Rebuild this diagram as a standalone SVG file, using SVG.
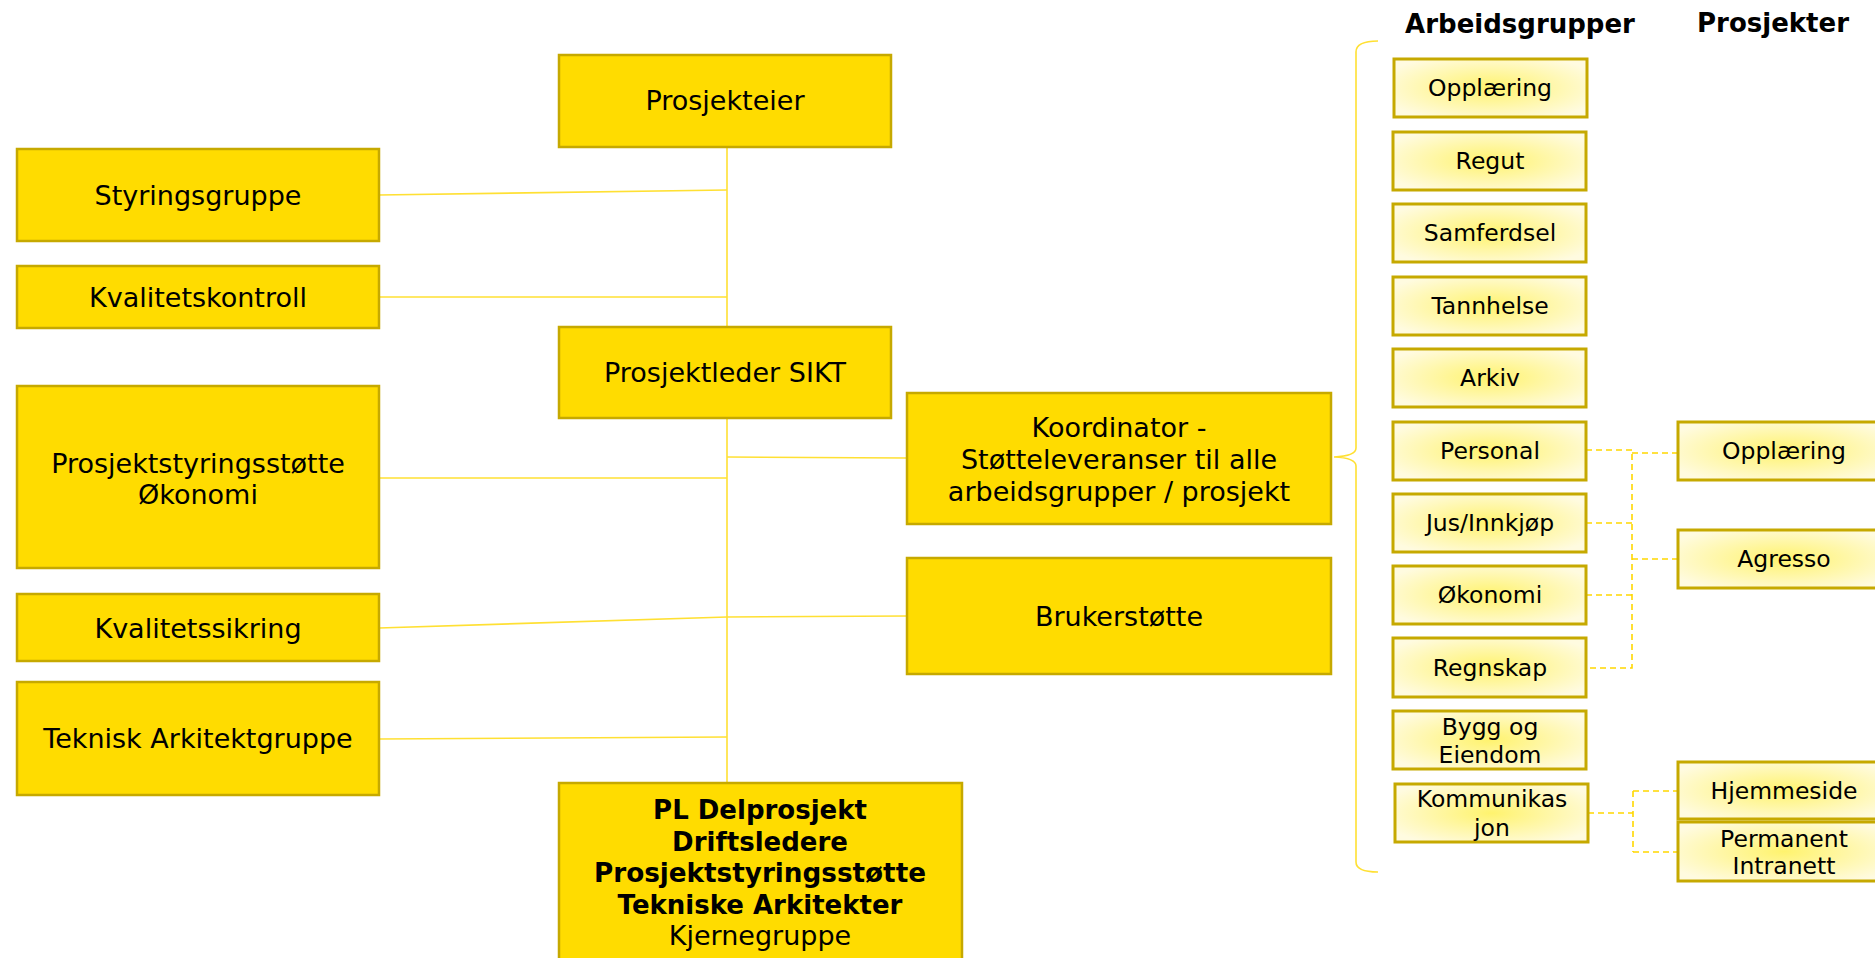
<svg xmlns="http://www.w3.org/2000/svg" width="1875" height="958" viewBox="0 0 1875 958">
<defs>
<radialGradient id="lg" cx="50%" cy="50%" r="60%">
<stop offset="0" stop-color="#FFF36E"/>
<stop offset="1" stop-color="#FFFBE0"/>
</radialGradient>
</defs>
<style>
.m{fill:#FFDC00;stroke:#C6A900;stroke-width:2.5}
.g{fill:url(#lg);stroke:#C6A900;stroke-width:3}
text{font-family:"DejaVu Sans",Verdana,sans-serif;fill:#000;text-anchor:middle}
.t{font-size:27px}
.s{font-size:23.5px}
.b{font-size:26px;font-weight:bold}
.c{stroke:#FFE033;stroke-width:1.6;fill:none}
.d{stroke:#FFD700;stroke-width:1.6;fill:none;stroke-dasharray:6 4}
</style>
<rect width="1875" height="958" fill="#fff"/>
<g id="connectors">
<path class="c" d="M727 147V783"/>
<path class="c" d="M379 195L727 190"/>
<path class="c" d="M379 297H727"/>
<path class="c" d="M379 478H727"/>
<path class="c" d="M379 628L727 617"/>
<path class="c" d="M379 739L727 737"/>
<path class="c" d="M727 457L907 458"/>
<path class="c" d="M727 617L907 616"/>
<path class="c" d="M1378 41Q1356 41 1356 52V448Q1356 456 1334 457Q1356 458 1356 466V862Q1356 872 1378 872"/>
<path class="d" d="M1586 450H1632V668H1586M1632 453H1678M1586 523H1632M1586 595H1632M1632 559H1678"/>
<path class="d" d="M1588 813H1633M1633 791V852M1633 791H1678M1633 852H1678"/>
</g>
<g id="prosjekteier"><rect class="m" x="559" y="55" width="332" height="92"/><text class="t" x="725" y="110">Prosjekteier</text></g>
<g id="styringsgruppe"><rect class="m" x="17" y="149" width="362" height="92"/><text class="t" x="198" y="205">Styringsgruppe</text></g>
<g id="kvalitetskontroll"><rect class="m" x="17" y="266" width="362" height="62"/><text class="t" x="198" y="307">Kvalitetskontroll</text></g>
<g id="prosjektleder"><rect class="m" x="559" y="327" width="332" height="91"/><text class="t" x="725" y="382">Prosjektleder SIKT</text></g>
<g id="prosjektstyring"><rect class="m" x="17" y="386" width="362" height="182"/><text class="t" x="198" y="473">Prosjektstyringsstøtte</text><text class="t" x="198" y="504">Økonomi</text></g>
<g id="kvalitetssikring"><rect class="m" x="17" y="594" width="362" height="67"/><text class="t" x="198" y="638">Kvalitetssikring</text></g>
<g id="teknisk"><rect class="m" x="17" y="682" width="362" height="113"/><text class="t" x="198" y="748">Teknisk Arkitektgruppe</text></g>
<g id="koordinator"><rect class="m" x="907" y="393" width="424" height="131"/><text class="t" x="1119" y="437">Koordinator -</text><text class="t" x="1119" y="469">Støtteleveranser til alle</text><text class="t" x="1119" y="501">arbeidsgrupper / prosjekt</text></g>
<g id="brukerstotte"><rect class="m" x="907" y="558" width="424" height="116"/><text class="t" x="1119" y="626">Brukerstøtte</text></g>
<g id="kjernegruppe"><rect class="m" x="559" y="783" width="403" height="185"/><text class="b" x="760" y="819">PL Delprosjekt</text><text class="b" x="760" y="851">Driftsledere</text><text class="b" x="760" y="882" textLength="332" lengthAdjust="spacingAndGlyphs">Prosjektstyringsstøtte</text><text class="b" x="760" y="914">Tekniske Arkitekter</text><text class="t" x="760" y="945">Kjernegruppe</text></g>
<g id="titles"><text class="b" x="1520" y="33">Arbeidsgrupper</text><text class="b" x="1773" y="32">Prosjekter</text></g>
<g id="ag-opplaering"><rect class="g" x="1394" y="59" width="193" height="58"/><text class="s" x="1490" y="96">Opplæring</text></g>
<g id="ag-regut"><rect class="g" x="1393" y="132" width="193" height="58"/><text class="s" x="1490" y="169">Regut</text></g>
<g id="ag-samferdsel"><rect class="g" x="1393" y="204" width="193" height="58"/><text class="s" x="1490" y="241">Samferdsel</text></g>
<g id="ag-tannhelse"><rect class="g" x="1393" y="277" width="193" height="58"/><text class="s" x="1490" y="314">Tannhelse</text></g>
<g id="ag-arkiv"><rect class="g" x="1393" y="349" width="193" height="58"/><text class="s" x="1490" y="386">Arkiv</text></g>
<g id="ag-personal"><rect class="g" x="1393" y="422" width="193" height="58"/><text class="s" x="1490" y="459">Personal</text></g>
<g id="ag-jus"><rect class="g" x="1393" y="494" width="193" height="58"/><text class="s" x="1490" y="531">Jus/Innkjøp</text></g>
<g id="ag-okonomi"><rect class="g" x="1393" y="566" width="193" height="58"/><text class="s" x="1490" y="603">Økonomi</text></g>
<g id="ag-regnskap"><rect class="g" x="1393" y="638" width="193" height="59"/><text class="s" x="1490" y="676">Regnskap</text></g>
<g id="ag-bygg"><rect class="g" x="1393" y="711" width="193" height="58"/><text class="s" x="1490" y="735">Bygg og</text><text class="s" x="1490" y="763">Eiendom</text></g>
<g id="ag-kommunikasjon"><rect class="g" x="1395" y="784" width="193" height="58"/><text class="s" x="1492" y="807">Kommunikas</text><text class="s" x="1492" y="836">jon</text></g>
<g id="p-opplaering"><rect class="g" x="1678" y="422" width="212" height="58"/><text class="s" x="1784" y="459">Opplæring</text></g>
<g id="p-agresso"><rect class="g" x="1678" y="530" width="212" height="58"/><text class="s" x="1784" y="567">Agresso</text></g>
<g id="p-hjemmeside"><rect class="g" x="1678" y="762" width="212" height="57"/><text class="s" x="1784" y="799">Hjemmeside</text></g>
<g id="p-intranett"><rect class="g" x="1678" y="822" width="212" height="59"/><text class="s" x="1784" y="847">Permanent</text><text class="s" x="1784" y="874">Intranett</text></g>
</svg>
